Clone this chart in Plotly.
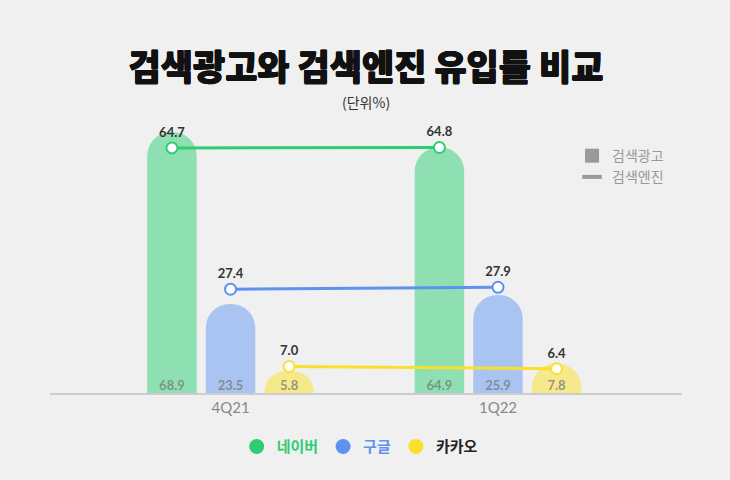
import plotly.graph_objects as go

quarters = ["4Q21", "1Q22"]
series = ["네이버", "구글", "카카오"]
ad_values = {"네이버": [68.9, 64.9], "구글": [23.5, 25.9], "카카오": [5.8, 7.8]}
engine_values = {"네이버": [64.7, 64.8], "구글": [27.4, 27.9], "카카오": [7.0, 6.4]}

line_colors = {"네이버": "#2fcc72", "구글": "#5f92f0", "카카오": "#f8e12c"}
bar_colors = {"네이버": "#8ee0b2", "구글": "#a9c4f1", "카카오": "#f5e98c"}
legend_text_colors = {"네이버": "#2fcc72", "구글": "#5f92f0", "카카오": "#222222"}

slot = 0.219
bar_w = 0.185
group_x = list(range(len(quarters)))

fig = go.Figure()

for k, s in enumerate(series):
    off = (k - 1) * slot
    xs = [g + off for g in group_x]
    fig.add_trace(go.Bar(
        x=xs, y=ad_values[s], width=bar_w,
        marker=dict(color=bar_colors[s], cornerradius=25, line=dict(width=0)),
        showlegend=False, hoverinfo="skip",
    ))
    fig.add_trace(go.Scatter(
        x=xs, y=[0, 0], mode="text",
        text=[f"{v:.1f}" for v in ad_values[s]],
        textposition="top center",
        textfont=dict(family="Lato", size=13, color="rgba(120,120,120,0.75)", weight="bold"),
        showlegend=False, hoverinfo="skip", cliponaxis=False,
    ))

for k, s in enumerate(series):
    off = (k - 1) * slot
    xs = [g + off for g in group_x]
    fig.add_trace(go.Scatter(
        x=xs, y=engine_values[s], mode="lines+markers+text",
        line=dict(color=line_colors[s], width=3),
        marker=dict(size=11, color="white", line=dict(color=line_colors[s], width=2)),
        text=[f"{v:.1f}" for v in engine_values[s]],
        textposition="top center",
        textfont=dict(family="Lato", size=13, color="#333333", weight="bold"),
        showlegend=False, hoverinfo="skip", cliponaxis=False,
    ))

fig.add_trace(go.Scatter(
    x=[None], y=[None], mode="markers", name="검색광고",
    marker=dict(symbol="square", size=14, color="#9a9a9a"), legend="legend",
))
fig.add_trace(go.Scatter(
    x=[None], y=[None], mode="markers", name="검색엔진",
    marker=dict(symbol="line-ew", size=14, color="#9a9a9a", line=dict(color="#9a9a9a", width=4)),
    legend="legend",
))
for s in series:
    fig.add_trace(go.Scatter(
        x=[None], y=[None], mode="markers",
        name=f"<span style='color:{legend_text_colors[s]}'><b>{s}</b></span>",
        marker=dict(symbol="circle", size=15, color=line_colors[s]), legend="legend2",
    ))

sh = "#111111"
title_shadow = f"0.5px 0 0 {sh}, -0.5px 0 0 {sh}, 0 0.5px 0 {sh}, 0 -0.5px 0 {sh}"

fig.update_layout(
    width=730, height=480,
    margin=dict(l=50, r=48, t=110, b=87),
    paper_bgcolor="#f0f0f0", plot_bgcolor="#f0f0f0",
    barmode="overlay",
    font=dict(family="Noto Sans CJK KR"),
    title=dict(
        text="검색광고와 검색엔진 유입률 비교",
        x=0.5, xanchor="center", y=0.858, yanchor="middle", xref="paper",
        font=dict(family="Noto Sans CJK KR", size=35, color=sh, weight=900, shadow=title_shadow),
    ),
    annotations=[dict(
        text="(단위%)", xref="paper", yref="paper", x=0.5, y=1.03, xanchor="center", yanchor="middle",
        showarrow=False, font=dict(family="Noto Sans CJK KR", size=14, color="#333333"),
    )],
    xaxis=dict(
        range=[-0.675, 1.688], tickvals=group_x, ticktext=quarters,
        showgrid=False, zeroline=False, showline=True, linecolor="#cccccc", linewidth=2,
        ticks="", tickfont=dict(family="Lato", size=15, color="#888888"), fixedrange=True,
    ),
    yaxis=dict(range=[0, 74.7], visible=False, fixedrange=True),
    legend=dict(
        x=0.826, y=0.80, xanchor="left", yanchor="middle",
        bgcolor="rgba(0,0,0,0)", font=dict(size=14, color="#999999"),
        itemwidth=30, tracegroupgap=0,
    ),
    legend2=dict(
        orientation="h", x=0.49, y=-0.19, xanchor="center", yanchor="middle",
        bgcolor="rgba(0,0,0,0)", font=dict(size=15), itemwidth=30,
    ),
)

fig.write_html("out.html", config={"displayModeBar": False},
               post_script="document.body.style.margin='0';")
